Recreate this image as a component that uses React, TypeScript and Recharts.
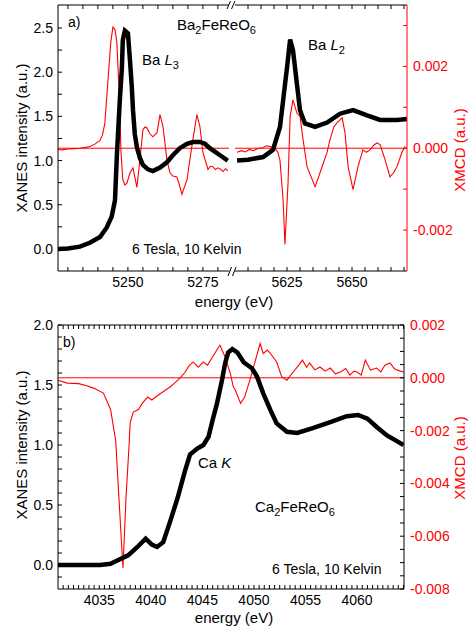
import { ComposedChart, Line, XAxis, YAxis, ReferenceLine } from 'recharts'

const FONT = '"Liberation Sans", Arial, Helvetica, sans-serif'
const RED = '#ff0000'

// ---- panel a) Ba L3 edge ----
const l3XanesE = [5226.7, 5230, 5234, 5237.3, 5240.7, 5242.9, 5244.6, 5245.7, 5246.3, 5246.7, 5247.3, 5248, 5248.3, 5249, 5250, 5250.7, 5251.3, 5251.7, 5252.3, 5253, 5254, 5255, 5256.7, 5258.3, 5260.7, 5263, 5265, 5267.3, 5269.7, 5271.7, 5274, 5275.7, 5277.3, 5279, 5280.7, 5283.3]
const l3XanesV = [0.0, 0.005, 0.026, 0.07, 0.135, 0.24, 0.365, 0.55, 1.04, 1.3, 1.68, 2.05, 2.36, 2.47, 2.44, 2.13, 1.83, 1.57, 1.3, 1.15, 1.03, 0.95, 0.9, 0.88, 0.92, 0.98, 1.06, 1.14, 1.19, 1.21, 1.21, 1.19, 1.14, 1.1, 1.06, 1.0]
const l3XmcdE = [5226.7, 5228, 5230, 5232.3, 5234, 5236, 5237.3, 5239, 5240.7, 5241.5, 5242.3, 5243.3, 5244.3, 5245, 5245.7, 5246.3, 5247, 5247.7, 5248.3, 5249, 5249.7, 5250.7, 5251.7, 5252.3, 5253, 5254, 5255, 5255.7, 5256.3, 5257.3, 5258.3, 5259.7, 5260.7, 5261.7, 5263, 5264, 5265, 5266.3, 5267, 5268, 5269.7, 5271.3, 5273, 5274, 5275, 5276.7, 5277.5, 5278.3, 5279.2, 5280, 5281, 5281.7, 5282.5, 5283.3]
const l3XmcdV = [-0.00003, -0.00004, -0.00002, -0.00001, 0.0, 0.00002, 0.00004, 0.0001, 0.00019, 0.00032, 0.0006, 0.0016, 0.0026, 0.00296, 0.0029, 0.0026, 0.0015, -0.0001, -0.00077, -0.0009, -0.00085, -0.0006, -0.00048, -0.0007, -0.00096, -0.00028, 0.00045, 0.00052, 0.0005, 0.00036, 0.00028, 0.00038, 0.00082, 0.00053, -0.00028, -0.0006, -0.00068, -0.0007, -0.00085, -0.00113, -0.00077, 0.00004, 0.00082, 0.00053, -0.0001, -0.00052, -0.00044, -0.00045, -0.00052, -0.00048, -0.00052, -0.00057, -0.0005, -0.00055]

// ---- panel a) Ba L2 edge ----
const l2XanesE = [5605.8, 5610, 5615.8, 5619.6, 5622.3, 5623.5, 5625, 5626.2, 5627.3, 5628.8, 5630, 5631.9, 5635.8, 5640.4, 5645.4, 5650.4, 5655.8, 5660.8, 5667.3, 5671.1]
const l2XanesV = [1.0, 1.01, 1.04, 1.12, 1.38, 1.68, 2.05, 2.37, 2.25, 1.87, 1.57, 1.42, 1.38, 1.43, 1.53, 1.57, 1.51, 1.46, 1.46, 1.47]
const l2XmcdE = [5605.8, 5607.5, 5609, 5610.5, 5612, 5614, 5615.8, 5617, 5618.5, 5620.4, 5621.5, 5622.3, 5623.5, 5624.2, 5625.4, 5626.2, 5627.3, 5628.8, 5630, 5631.2, 5632.7, 5635.8, 5637.7, 5640.4, 5641.5, 5643, 5644.2, 5646.2, 5647.3, 5648.5, 5650.4, 5652.3, 5654.2, 5655.5, 5656.9, 5658.5, 5659.6, 5660.8, 5662.7, 5664.6, 5666, 5667.3, 5669.2, 5670.4]
const l2XmcdV = [-0.0001, -0.00006, -0.00009, -0.00003, -0.00006, 0.0, 0.00001, 0.00006, 0.00004, 0.0, -0.0001, -0.0003, -0.00126, -0.00235, -0.00085, 0.00078, 0.00118, 0.00086, 0.00078, 0.0002, -0.00045, -0.00094, -0.0006, -0.0001, 0.0002, 0.00052, 0.00062, 0.00074, 0.00038, -0.00045, -0.00101, -0.00045, -0.00004, -0.0001, -0.00004, 0.00008, 0.00013, 0.00009, -0.00028, -0.0007, -0.0006, -0.00045, -0.0001, 0.00004]

// ---- panel b) Ca K edge ----
const caXanesE = [4031.0, 4033, 4035.1, 4036.1, 4036.8, 4037.8, 4038.7, 4039.5, 4040.1, 4040.6, 4041.2, 4041.9, 4042.6, 4043.3, 4043.8, 4044.5, 4045.1, 4045.6, 4046.0, 4046.4, 4046.9, 4047.2, 4047.5, 4047.9, 4048.4, 4049.0, 4049.8, 4050.3, 4050.9, 4051.6, 4052.2, 4053.2, 4054.2, 4055.7, 4057.4, 4059.0, 4060.1, 4061.0, 4061.9, 4062.9, 4063.9, 4064.5]
const caXanesV = [0.0, 0.0, 0.0, 0.01, 0.04, 0.08, 0.15, 0.22, 0.17, 0.15, 0.19, 0.37, 0.56, 0.78, 0.92, 0.97, 1.0, 1.07, 1.21, 1.34, 1.54, 1.68, 1.77, 1.8, 1.77, 1.69, 1.64, 1.57, 1.43, 1.29, 1.18, 1.11, 1.1, 1.14, 1.19, 1.24, 1.25, 1.22, 1.15, 1.08, 1.03, 1.0]
const caXmcdE = [4031.0, 4031.9, 4033.0, 4033.8, 4034.5, 4035.4, 4036.1, 4036.6, 4036.9, 4037.3, 4037.6, 4037.9, 4038.0, 4038.3, 4038.8, 4039.2, 4039.7, 4040.1, 4040.7, 4041.3, 4041.9, 4042.3, 4042.8, 4043.3, 4043.7, 4044.1, 4044.6, 4045.1, 4045.5, 4046.0, 4046.4, 4046.7, 4047.2, 4047.7, 4048.0, 4048.2, 4048.7, 4049.1, 4049.6, 4050.1, 4050.6, 4050.9, 4051.3, 4051.6, 4052.2, 4052.7, 4053.2, 4053.8, 4054.3, 4054.7, 4055.1, 4055.4, 4055.9, 4056.4, 4056.9, 4057.4, 4057.9, 4058.4, 4058.9, 4059.3, 4059.7, 4060.0, 4060.4, 4060.8, 4061.3, 4061.9, 4062.3, 4062.7, 4063.2, 4063.6, 4063.9, 4064.5]
const caXmcdV = [-0.00009, -0.0002, -0.00022, -0.0003, -0.0004, -0.00058, -0.0012, -0.0024, -0.0045, -0.0072, -0.0045, -0.0025, -0.0017, -0.0013, -0.0012, -0.00095, -0.00073, -0.00084, -0.00066, -0.0005, -0.00034, -0.0002, -0.00002, 0.0002, 0.00045, 0.0006, 0.0004, 0.0006, 0.00048, 0.0008, 0.00105, 0.00124, 0.00079, 0.00018, -0.00034, -0.00047, -0.00097, -0.00073, -0.00009, 0.0006, 0.0013, 0.00092, 0.00105, 0.00092, 0.0006, 0.00003, -0.00009, 0.00022, 0.00045, 0.00067, 0.0004, 0.00056, 0.0003, 0.00041, 0.00025, 0.00037, 0.00015, 0.00022, 0.00035, 0.0001, 0.00025, 0.00022, 0.0001, 0.00067, 0.00029, 0.00037, 0.00022, 0.00048, 0.00056, 0.00035, 0.00029, 0.00022]

// ---- ticks ----
const range = (a: number, b: number, step: number) => {
  const out: number[] = []
  for (let v = a; v <= b + step / 1000; v += step) out.push(Math.round(v * 1e6) / 1e6)
  return out
}
const l3Major = [5250, 5275]
const l3Ticks = range(5230, 5280, 5)
const l2Major = [5625, 5650]
const l2Ticks = range(5610, 5670, 5)
const aLeftMajor = [0, 0.5, 1, 1.5, 2, 2.5]
const aLeftTicks = range(0, 2.5, 0.25)
const aRightMajor = [-0.002, 0, 0.002]
const aRightTicks = range(-0.002, 0.003, 0.001)
const bXMajor = [4035, 4040, 4045, 4050, 4055, 4060]
const bXTicks = range(4031.5, 4064.5, 0.5)
const bLeftMajor = [0, 0.5, 1, 1.5, 2]
const bLeftTicks = range(-0.1, 2.0, 0.1)
const bRightMajor = [-0.008, -0.006, -0.004, -0.002, 0, 0.002]
const bRightTicks = range(-0.008, 0.002, 0.0005)

const zip = (e: number[], v: number[]) => e.map((x, i) => ({ e: x, v: v[i] }))

// tick lines come from recharts (tickSize < 0 -> inward); this only draws labels on majors
const TS = -4
type Side = 'bottom' | 'top' | 'left' | 'right'
const makeTick = (side: Side, majors: number[], fmt: (v: number) => string, labelColor = '#000') =>
  (props: any) => {
    const x = Number(props.x)
    const y = Number(props.y)
    const v = props.payload.value
    const major = majors.some((m) => Math.abs(m - v) < 1e-9)
    if (!major || side === 'top') return <g />
    const tp = { fill: labelColor, fontSize: 14, fontFamily: FONT, stroke: 'none' }
    if (side === 'bottom') return <text x={x} y={y + 16} textAnchor="middle" {...tp}>{fmt(v)}</text>
    if (side === 'left') return <text x={x - 5} y={y + 5} textAnchor="end" {...tp}>{fmt(v)}</text>
    return <text x={x + 6} y={y + 5} textAnchor="start" {...tp}>{fmt(v)}</text>
  }

const f0 = (v: number) => String(v)
const f1 = (v: number) => v.toFixed(1)
const f3 = (v: number) => v.toFixed(3)

const Sub = ({ children, size = 10 }: { children: string; size?: number }) => (
  <tspan fontSize={size} dy={4}>{children}</tspan>
)

const axisCommon = { tickSize: TS, tickMargin: -TS, interval: 0 as const, allowDataOverflow: true, type: 'number' as const }

export default function App() {
  const text = { fontFamily: FONT, fontSize: 14, fill: '#000' }
  return (
    <div style={{ position: 'absolute', left: 0, top: 0, width: 475, height: 630, background: '#fff', fontFamily: FONT }}>
      {/* a) left segment, L3 */}
      <div style={{ position: 'absolute', left: 0, top: 0 }}>
        <ComposedChart width={229} height={310} margin={{ top: 0, right: 0, bottom: 0, left: 0 }}>
          <XAxis xAxisId="b" dataKey="e" {...axisCommon} domain={[5226.7, 5283.7]} ticks={l3Ticks}
            height={39} stroke="#000" tickLine={{ stroke: '#000' }} tick={makeTick('bottom', l3Major, f0)} />
          <XAxis xAxisId="t" dataKey="e" orientation="top" {...axisCommon} domain={[5226.7, 5283.7]} ticks={l3Ticks}
            height={5} stroke="#000" tickLine={{ stroke: '#000' }} tick={makeTick('top', l3Major, f0)} />
          <YAxis yAxisId="l" {...axisCommon} domain={[-0.25, 2.76]} ticks={aLeftTicks}
            width={58} stroke="#000" tickLine={{ stroke: '#000' }} tick={makeTick('left', aLeftMajor, f1)} />
          <YAxis yAxisId="r" type="number" orientation="right" hide domain={[-0.003, 0.0035]} allowDataOverflow />
          <ReferenceLine xAxisId="b" yAxisId="r" y={0} stroke={RED} strokeWidth={1} />
          <Line xAxisId="b" yAxisId="r" data={zip(l3XmcdE, l3XmcdV)} dataKey="v" stroke={RED} strokeWidth={1.1} dot={false} activeDot={false} isAnimationActive={false} />
          <Line xAxisId="b" yAxisId="l" data={zip(l3XanesE, l3XanesV)} dataKey="v" stroke="#000" strokeWidth={4.5} dot={false} activeDot={false} isAnimationActive={false} />
        </ComposedChart>
      </div>

      {/* a) right segment, L2 */}
      <div style={{ position: 'absolute', left: 235, top: 0 }}>
        <ComposedChart width={240} height={310} margin={{ top: 0, right: 0, bottom: 0, left: 0 }}>
          <XAxis xAxisId="b" dataKey="e" {...axisCommon} domain={[5605, 5671.15]} ticks={l2Ticks}
            height={39} stroke="#000" tickLine={{ stroke: '#000' }} tick={makeTick('bottom', l2Major, f0)} />
          <XAxis xAxisId="t" dataKey="e" orientation="top" {...axisCommon} domain={[5605, 5671.15]} ticks={l2Ticks}
            height={5} stroke="#000" tickLine={{ stroke: '#000' }} tick={makeTick('top', l2Major, f0)} />
          <YAxis yAxisId="l" type="number" hide domain={[-0.25, 2.76]} allowDataOverflow />
          <YAxis yAxisId="r" orientation="right" {...axisCommon} domain={[-0.003, 0.0035]} ticks={aRightTicks}
            width={68} stroke={RED} tickLine={{ stroke: RED }} tick={makeTick('right', aRightMajor, f3, RED)} />
          <ReferenceLine xAxisId="b" yAxisId="r" y={0} stroke={RED} strokeWidth={1} />
          <Line xAxisId="b" yAxisId="r" data={zip(l2XmcdE, l2XmcdV)} dataKey="v" stroke={RED} strokeWidth={1.1} dot={false} activeDot={false} isAnimationActive={false} />
          <Line xAxisId="b" yAxisId="l" data={zip(l2XanesE, l2XanesV)} dataKey="v" stroke="#000" strokeWidth={4.5} dot={false} activeDot={false} isAnimationActive={false} />
        </ComposedChart>
      </div>

      {/* b) Ca K */}
      <div style={{ position: 'absolute', left: 0, top: 300 }}>
        <ComposedChart width={475} height={330} margin={{ top: 0, right: 0, bottom: 0, left: 0 }}>
          <XAxis xAxisId="b" dataKey="e" {...axisCommon} domain={[4031, 4064.55]} ticks={bXTicks}
            height={41} stroke="#000" tickLine={{ stroke: '#000' }} tick={makeTick('bottom', bXMajor, f0)} />
          <XAxis xAxisId="t" dataKey="e" orientation="top" {...axisCommon} domain={[4031, 4064.55]} ticks={bXTicks}
            height={25} stroke="#000" tickLine={{ stroke: '#000' }} tick={makeTick('top', bXMajor, f0)} />
          <YAxis yAxisId="l" {...axisCommon} domain={[-0.2, 2.0]} ticks={bLeftTicks}
            width={58} stroke="#000" tickLine={{ stroke: '#000' }} tick={makeTick('left', bLeftMajor, f1)} />
          <YAxis yAxisId="r" orientation="right" {...axisCommon} domain={[-0.008, 0.002]} ticks={bRightTicks}
            width={71} stroke="#000" tickLine={{ stroke: '#000' }} tick={makeTick('right', bRightMajor, f3, RED)} />
          <ReferenceLine xAxisId="b" yAxisId="r" y={0} stroke={RED} strokeWidth={1} />
          <Line xAxisId="b" yAxisId="r" data={zip(caXmcdE, caXmcdV)} dataKey="v" stroke={RED} strokeWidth={1.1} dot={false} activeDot={false} isAnimationActive={false} />
          <Line xAxisId="b" yAxisId="l" data={zip(caXanesE, caXanesV)} dataKey="v" stroke="#000" strokeWidth={4.5} dot={false} activeDot={false} isAnimationActive={false} />
        </ComposedChart>
      </div>

      {/* labels, annotations and axis break marks */}
      <svg width={475} height={630} style={{ position: 'absolute', left: 0, top: 0, pointerEvents: 'none' }}>
        <g stroke="#000" strokeWidth={1}>
          <line x1={227} y1={9} x2={230.5} y2={1} />
          <line x1={231.5} y1={9} x2={235} y2={1} />
          <line x1={228} y1={276} x2={231.5} y2={267} />
          <line x1={232.5} y1={276} x2={236} y2={267} />
        </g>
        <text {...text} x={68} y={27}>a)</text>
        <text {...text} fontSize={15} x={177} y={30}>Ba<Sub size={11}>2</Sub><tspan dy={-4}>FeReO</tspan><Sub size={11}>6</Sub></text>
        <text {...text} fontSize={15} x={142} y={65}>Ba <tspan fontStyle="italic">L</tspan><Sub size={11}>3</Sub></text>
        <text {...text} fontSize={15} x={308} y={50}>Ba <tspan fontStyle="italic">L</tspan><Sub size={11}>2</Sub></text>
        <text {...text} x={132} y={254}>6 Tesla, 10 Kelvin</text>
        <text {...text} x={234} y={307} textAnchor="middle" fontSize={15}>energy (eV)</text>
        <text {...text} transform="rotate(-90)" x={-138} y={27} textAnchor="middle" fontSize={15}>XANES intensity (a.u.)</text>
        <text {...text} fill={RED} transform="rotate(-90)" x={-150} y={465} textAnchor="middle" fontSize={15}>XMCD (a.u.)</text>

        <text {...text} x={63} y={347}>b)</text>
        <text {...text} fontSize={15} x={198} y={468}>Ca <tspan fontStyle="italic">K</tspan></text>
        <text {...text} fontSize={15} x={255} y={512}>Ca<Sub size={11}>2</Sub><tspan dy={-4}>FeReO</tspan><Sub size={11}>6</Sub></text>
        <text {...text} x={272} y={574}>6 Tesla, 10 Kelvin</text>
        <text {...text} x={234} y={623} textAnchor="middle" fontSize={15}>energy (eV)</text>
        <text {...text} transform="rotate(-90)" x={-445} y={27} textAnchor="middle" fontSize={15}>XANES intensity (a.u.)</text>
        <text {...text} fill={RED} transform="rotate(-90)" x={-458} y={465} textAnchor="middle" fontSize={15}>XMCD (a.u.)</text>
      </svg>
    </div>
  )
}
